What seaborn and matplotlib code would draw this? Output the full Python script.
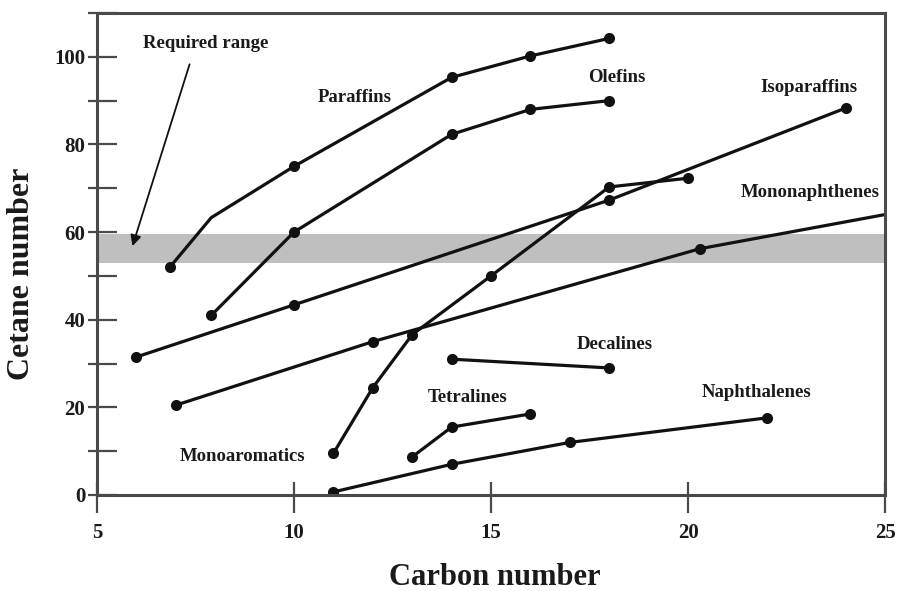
import matplotlib
matplotlib.use("Agg")
import matplotlib.pyplot as plt
from matplotlib.ticker import FixedLocator, NullFormatter
import seaborn as sns

# Cetane number vs carbon number for hydrocarbon families
paraffin_c = [6.85, 7.9, 10, 14, 16, 18]
paraffin_cn = [52, 63.3, 75, 95.3, 100.2, 104.2]

olefin_c = [7.9, 10, 14, 16, 18]
olefin_cn = [41, 60, 82.3, 88, 90]

isoparaffin_c = [6, 10, 18, 24]
isoparaffin_cn = [31.5, 43.4, 67.3, 88.3]

monoaromatic_c = [11, 12, 13, 15, 18, 20]
monoaromatic_cn = [9.5, 24.5, 36.6, 50, 70.3, 72.3]

mononaphthene_c = [7, 12, 20.3, 25]
mononaphthene_cn = [20.5, 35, 56.2, 64]

decaline_c = [14, 18]
decaline_cn = [31, 29]

tetraline_c = [13, 14, 16]
tetraline_cn = [8.7, 15.5, 18.5]

naphthalene_c = [11, 14, 17, 22]
naphthalene_cn = [0.7, 7, 12, 17.6]

required_range = (53, 59.5)

x_ticks = [5, 10, 15, 20, 25]
y_ticks = [0, 10, 20, 30, 40, 50, 60, 70, 80, 90, 100, 110]
y_tick_labels = ["0", "", "20", "", "40", "", "60", "", "80", "", "100", ""]

sns.set_theme(style="white")
plt.rcParams["font.family"] = ["Liberation Serif", "DejaVu Serif"]
plt.rcParams["font.weight"] = "bold"

fig = plt.figure(figsize=(8.99, 5.91), dpi=100)
ax = fig.add_axes([97 / 899, 1 - 495 / 591, 788 / 899, 482 / 591])

ax.axhspan(*required_range, color="#bfbfbf", lw=0, zorder=0)

ink = "#111111"
line_kw = dict(color=ink, linewidth=2.3, marker="o", markersize=8,
               markeredgewidth=0, sort=False, estimator=None, ax=ax)

sns.lineplot(x=paraffin_c, y=paraffin_cn, markevery=[0, 2, 3, 4, 5], **line_kw)
sns.lineplot(x=olefin_c, y=olefin_cn, **line_kw)
sns.lineplot(x=isoparaffin_c, y=isoparaffin_cn, **line_kw)
sns.lineplot(x=monoaromatic_c, y=monoaromatic_cn, **line_kw)
sns.lineplot(x=mononaphthene_c, y=mononaphthene_cn, markevery=[0, 1, 2], **line_kw)
sns.lineplot(x=decaline_c, y=decaline_cn, **line_kw)
sns.lineplot(x=tetraline_c, y=tetraline_cn, **line_kw)
sns.lineplot(x=naphthalene_c, y=naphthalene_cn, **line_kw)

ax.set_xlim(5, 25)
ax.set_ylim(0, 110)

# Series names
label_kw = dict(fontsize=13.5, fontweight="bold", color="#1a1a1a",
                ha="center", va="center")
ax.text(11.55, 90.8, "Paraffins", **label_kw)
ax.text(18.2, 95.2, "Olefins", **label_kw)
ax.text(23.07, 93.1, "Isoparaffins", **label_kw)
ax.text(23.1, 69.1, "Mononaphthenes", **label_kw)
ax.text(18.15, 34.3, "Decalines", **label_kw)
ax.text(14.4, 22.2, "Tetralines", **label_kw)
ax.text(21.75, 23.3, "Naphthalenes", **label_kw)
ax.text(8.69, 8.7, "Monoaromatics", **label_kw)
ax.text(7.76, 103.0, "Required range", **label_kw)
ax.annotate("", xy=(5.9, 56.8), xytext=(7.35, 98.3),
            arrowprops=dict(arrowstyle="-|>", color=ink, lw=1.3,
                            mutation_scale=16, shrinkA=0, shrinkB=0))

# Frame and ticks
spine_color = "#4a4a4a"
for side in ["left", "bottom", "top", "right"]:
    ax.spines[side].set_visible(True)
    ax.spines[side].set_color(spine_color)
    ax.spines[side].set_linewidth(2.2)

ax.xaxis.set_major_locator(FixedLocator(x_ticks))
ax.xaxis.set_minor_locator(FixedLocator(x_ticks))
ax.yaxis.set_major_locator(FixedLocator(y_ticks))
ax.yaxis.set_minor_locator(FixedLocator(y_ticks))
ax.xaxis.remove_overlapping_locs = False
ax.yaxis.remove_overlapping_locs = False
ax.set_yticklabels(y_tick_labels)
ax.xaxis.set_minor_formatter(NullFormatter())
ax.yaxis.set_minor_formatter(NullFormatter())

ax.tick_params(axis="both", which="both", bottom=True, left=True,
               top=False, right=False)
ax.tick_params(axis="x", which="major", direction="in", length=9.5, width=1.6,
               color=spine_color, pad=20, labelsize=15, labelcolor="#1a1a1a")
ax.tick_params(axis="x", which="minor", direction="out", length=13, width=1.6,
               color=spine_color)
ax.tick_params(axis="y", which="major", direction="in", length=14.5, width=1.6,
               color=spine_color, pad=8.5, labelsize=15, labelcolor="#1a1a1a")
ax.tick_params(axis="y", which="minor", direction="out", length=6.5, width=1.6,
               color=spine_color)
for lab in ax.get_xticklabels() + ax.get_yticklabels():
    lab.set_fontweight("bold")

ax.set_xlabel("Carbon number", fontsize=22, fontweight="bold", color="#1a1a1a")
ax.set_ylabel("Cetane number", fontsize=23, fontweight="bold", color="#1a1a1a")
ax.xaxis.set_label_coords(0.505, -0.141)
ax.xaxis.label.set_va("top")
ax.yaxis.set_label_coords(-0.077, 0.458)

ax.grid(False)
fig.savefig("out.png", dpi=100, facecolor="white")
